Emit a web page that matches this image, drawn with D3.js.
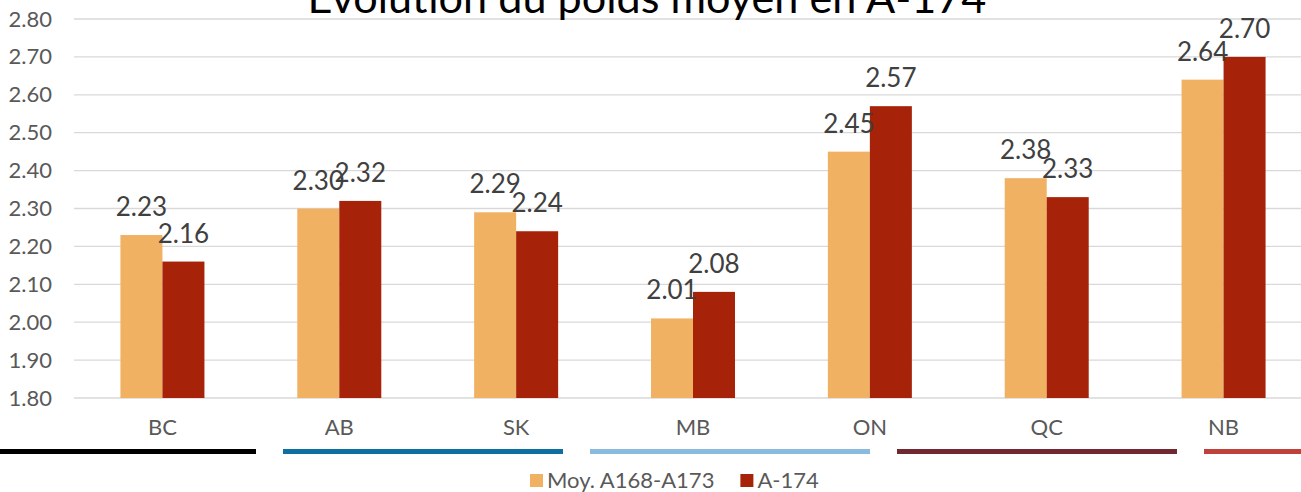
<!DOCTYPE html>
<html>
<head>
<meta charset="utf-8">
<script src="https://d3js.org/d3.v7.min.js"></script>
<style>
  html, body { margin: 0; padding: 0; background: #fff; overflow: hidden; }
  svg { display: block; font-family: "Lato", "Open Sans", sans-serif; }
</style>
</head>
<body>
<svg id="chart"></svg>
<script>
// data
const provinces = ["BC", "AB", "SK", "MB", "ON", "QC", "NB"];
const moyenne = [2.23, 2.30, 2.29, 2.01, 2.45, 2.38, 2.64];
const a174 = [2.16, 2.32, 2.24, 2.08, 2.57, 2.33, 2.70];
const seriesNames = ["Moy. A168-A173", "A-174"];
const seriesColors = ["#F1B163", "#A6230A"];
const yTicks = [1.8, 1.9, 2.0, 2.1, 2.2, 2.3, 2.4, 2.5, 2.6, 2.7, 2.8];
const bandColors = ["#000000", "#0F6FA0", "#8ABBDD", "#722830", "#C0413C"];

const width = 1301, height = 492;
const SVG = d3.select("#chart").attr("width", width).attr("height", height);

const plotLeft = 74, plotRight = 1312, plotTop = 19, plotBottom = 398;

const x = d3.scaleBand()
    .domain(provinces)
    .range([plotLeft, plotRight])
    .paddingInner(0.525)
    .paddingOuter(0.2625);

const xs = d3.scaleBand()
    .domain([0, 1])
    .range([0, x.bandwidth()]);

const y = d3.scaleLinear().domain([1.8, 2.8]).range([plotBottom, plotTop]);

// grid
SVG.append("g")
    .selectAll("line")
    .data(yTicks)
    .enter()
    .append("line")
    .attr("x1", plotLeft)
    .attr("x2", width)
    .attr("y1", d => y(d))
    .attr("y2", d => y(d))
    .attr("stroke", "#d9d9d9")
    .attr("stroke-width", 1.3);

// y axis labels
const yAxis = d3.axisLeft(y).tickValues(yTicks).tickFormat(d3.format(".2f")).tickSize(0).tickPadding(0);
const yG = SVG.append("g").attr("transform", `translate(52,0)`).call(yAxis);
yG.select(".domain").remove();
yG.selectAll("text")
    .attr("fill", "#595959")
    .style("font-size", "22px")
    .style("font-family", "Lato, 'Open Sans', sans-serif");

// bars
const rows = provinces.map((p, i) => ({ p, vals: [moyenne[i], a174[i]] }));

const groups = SVG.append("g")
    .selectAll("g")
    .data(rows)
    .enter()
    .append("g")
    .attr("transform", d => `translate(${x(d.p)},0)`);

groups.selectAll("rect")
    .data(d => d.vals.map((v, s) => ({ v, s })))
    .enter()
    .append("rect")
    .attr("x", d => xs(d.s))
    .attr("width", xs.bandwidth())
    .attr("y", d => y(d.v))
    .attr("height", d => y(1.8) - y(d.v))
    .attr("fill", d => seriesColors[d.s]);

groups.selectAll("text")
    .data(d => d.vals.map((v, s) => ({ v, s })))
    .enter()
    .append("text")
    .attr("x", d => xs(d.s) + xs.bandwidth() / 2)
    .attr("y", d => y(d.v) - 19)
    .attr("text-anchor", "middle")
    .attr("fill", "#404040")
    .style("font-size", "26px")
    .text(d => d.v.toFixed(2));

// category labels
const xAxis = d3.axisBottom(x).tickSize(0).tickPadding(0);
const xG = SVG.append("g").attr("transform", `translate(0,${plotBottom})`).call(xAxis);
xG.select(".domain").remove();
xG.selectAll("text")
    .attr("dy", null)
    .attr("y", 37)
    .attr("fill", "#595959")
    .style("font-size", "22px")
    .style("font-family", "Lato, 'Open Sans', sans-serif");

// template decoration under the axis
SVG.append("g")
    .selectAll("rect")
    .data(bandColors)
    .enter()
    .append("rect")
    .attr("x", (d, i) => -24 + i * 307)
    .attr("width", 280)
    .attr("y", 449)
    .attr("height", 5)
    .attr("fill", d => d);

// legend
const legend = SVG.append("g").attr("transform", "translate(530,488)");
let lx = 0;
seriesNames.forEach((name, i) => {
    const g = legend.append("g").attr("transform", `translate(${lx},0)`);
    g.append("rect").attr("width", 13).attr("height", 13).attr("y", -14).attr("fill", seriesColors[i]);
    g.append("text").attr("x", 17).attr("y", 0).attr("fill", "#595959")
        .style("font-size", "22px").text(name);
    lx += g.node().getBBox().width + 26;
});

// title, cut off by the top of the slide
const title = SVG.append("text")
    .attr("x", 647)
    .attr("y", 13)
    .attr("text-anchor", "middle")
    .attr("fill", "#000")
    .style("font-size", "40px")
    .text("Évolution du poids moyen en A-174");
const tw = title.node().getComputedTextLength();
title.style("font-size", (40 * 679 / tw).toFixed(1) + "px");
</script>
</body>
</html>
